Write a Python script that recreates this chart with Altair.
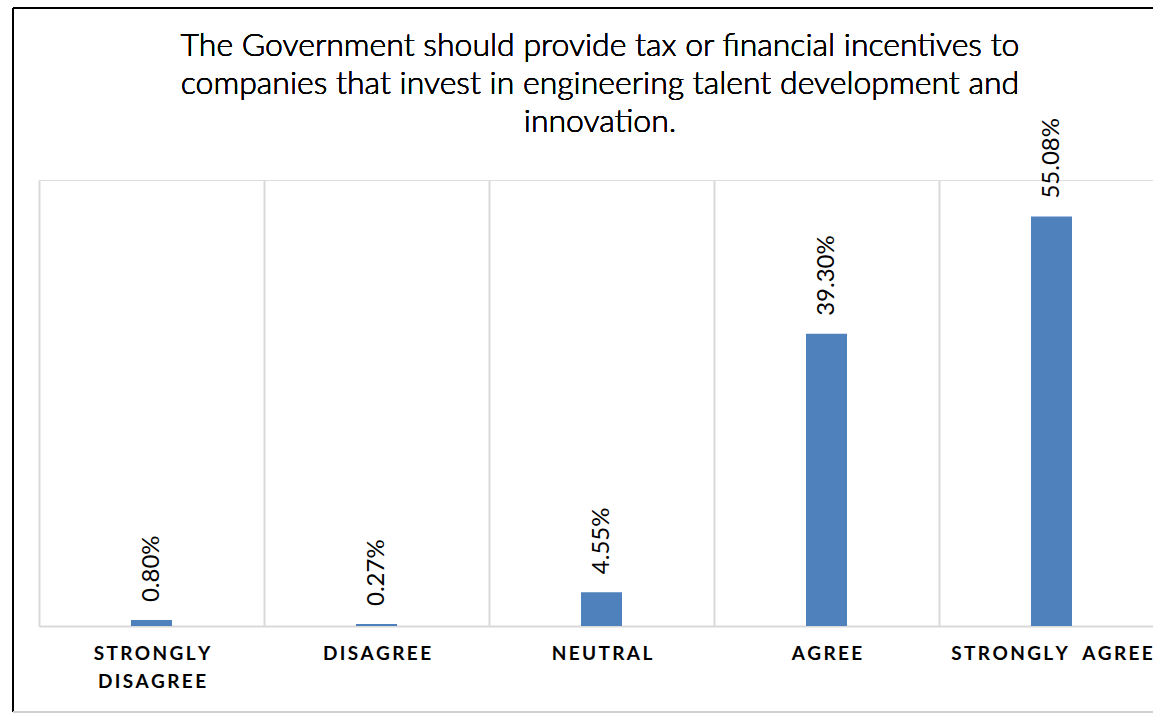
import altair as alt
import pandas as pd

# Survey responses (share of respondents, %)
categories = ["STRONGLY DISAGREE", "DISAGREE", "NEUTRAL", "AGREE", "STRONGLY AGREE"]
shares = [0.80, 0.27, 4.55, 39.30, 55.08]

title_lines = [
    "The Government should provide tax or financial incentives to",
    "companies that invest in engineering talent development and",
    "innovation.",
]

df = pd.DataFrame({"response": categories, "share": shares})

BAR_COLOR = "#4F81BD"
GRID_COLOR = "#D9D9D9"
FONT = "Lato"

# letter-spaced, upper-case category labels; the first one wraps onto two lines
spaced = (
    "replace(replace(datum.value, regexp('(\\\\S)(?=\\\\S)', 'g'), '$1\u2009'), ' ', '\u2003')"
)
label_expr = (
    f"!isValid(datum.value) ? '' : "
    f"(datum.value == 'STRONGLY DISAGREE' ? split({spaced}, '\u2003') : {spaced})"
)

x_enc = alt.X(
    "response:N",
    sort=categories,
    scale=alt.Scale(range=[0, 1125], paddingInner=0, paddingOuter=0),
    axis=alt.Axis(
        title=None,
        tickBand="extent",
        ticks=False,
        grid=True,
        gridColor=GRID_COLOR,
        gridWidth=2,
        domain=True,
        domainColor=GRID_COLOR,
        domainWidth=2,
        labelAngle=0,
        labelFont=FONT,
        labelFontWeight="bold",
        labelFontSize=19,
        labelColor="#000000",
        labelPadding=18,
        labelLineHeight=28,
        labelLimit=600,
        labelOverlap=False,
        labelBound=False,
        labelExpr=label_expr,
    ),
)
y_enc = alt.Y("share:Q", scale=alt.Scale(domain=[0, 60], nice=False), axis=None)

base = alt.Chart(df).encode(x=x_enc, y=y_enc)

bars = base.mark_bar(size=41, color=BAR_COLOR)

labels = base.transform_calculate(
    txt="format(datum.share, '.2f') + '%'"
).mark_text(
    angle=270, align="left", baseline="middle", dx=18,
    font=FONT, fontSize=24, fontWeight=400, color="#000000",
).encode(text="txt:N")

# chart title, centred on the chart area
title = alt.Chart(df).mark_text(
    font=FONT, fontSize=32, fontWeight=300, color="#000000", align="center",
    baseline="alphabetic", lineHeight=38,
).encode(x=alt.value(561), y=alt.value(-124), text=alt.value(title_lines))

# chart-area frame
frame_top = alt.Chart(df).mark_rule(color="#000000", strokeWidth=2).encode(
    x=alt.value(-26), x2=alt.value(1125), y=alt.value(-172)
)
frame_left = alt.Chart(df).mark_rule(color="#000000", strokeWidth=2).encode(
    x=alt.value(-26), y=alt.value(-172), y2=alt.value(532)
)
frame_bottom = alt.Chart(df).mark_rule(color="#D0D0D0", strokeWidth=1.5).encode(
    x=alt.value(-26), x2=alt.value(1125), y=alt.value(532)
)

chart = alt.layer(frame_top, frame_left, frame_bottom, title, bars, labels).properties(
    width=1114,
    height=446,
    autosize=alt.AutoSizeParams(type="none"),
    padding={"left": 39, "top": 180, "right": 0, "bottom": 87},
).configure_view(stroke=None).configure(background="white")

chart.save("out.html", embed_options={"renderer": "svg", "actions": False})
